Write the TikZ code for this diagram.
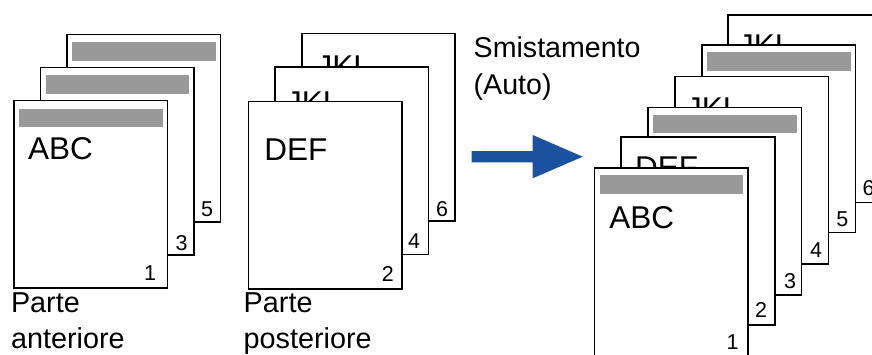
\documentclass[tikz,border=0pt]{standalone}
\usepackage{fontspec}
\setmainfont{Liberation Sans}
\usetikzlibrary{calc}
\definecolor{arrowblue}{RGB}{26,82,160}
\definecolor{bargray}{RGB}{153,153,153}
\begin{document}
\begin{tikzpicture}[x=1pt,y=-1pt,
  sheet/.style={draw=black, line width=1.9pt, fill=white, rectangle,
    minimum width=153.5pt, minimum height=187.5pt, inner sep=0pt, outer sep=0pt, anchor=north west},
  sheetbar/.style={fill=bargray, rectangle, minimum width=143.5pt, minimum height=18.5pt,
    inner sep=0pt, outer sep=0pt, anchor=north west},
  bigtxt/.style={font=\fontsize{31.5}{36}\selectfont, inner sep=0pt, outer sep=0pt, anchor=base west},
  num/.style={font=\fontsize{21.5}{25}\selectfont, inner sep=0pt, outer sep=0pt, anchor=base},
  sidetext/.style={align=left, inner sep=0pt, outer sep=0pt, anchor=north west}]
\useasboundingbox (0,0) rectangle (872,354);
\clip (0,0) rectangle (872,354);

% ---------- left stack (front side) ----------
\node[sheet] (L5) at (67,34.5) {};
\node[sheetbar] (L5bar) at ($(L5.north west)+(5,7.5)$) {};
\node[num] (L5n) at ($(L5.south east)+(-13.5,-5.3)$) {5};
\node[sheet] (L3) at (40.5,67.5) {};
\node[sheetbar] (L3bar) at ($(L3.north west)+(5,7.5)$) {};
\node[num] (L3n) at ($(L3.south east)+(-12.5,-4.5)$) {3};
\node[sheet] (L1) at (14,100.5) {};
\node[sheetbar] (L1bar) at ($(L1.north west)+(5,8)$) {};
\node[bigtxt] (L1t) at ($(L1.north west)+(14,58.5)$) {ABC};
\node[num] (L1n) at ($(L1.south east)+(-17.5,-7.3)$) {1};
\node[sidetext, font=\fontsize{28.8}{36}\selectfont] (front) at (11,292.8) {Parte\\anteriore};

% ---------- middle stack (back side) ----------
\node[sheet] (M6) at (301.7,33.5) {};
\node[bigtxt] (M6t) at ($(M6.north west)+(15,43.5)$) {JKL};
\node[num] (M6n) at ($(M6.south east)+(-13.2,-5)$) {6};
\node[sheet] (M4) at (275,67) {};
\node[bigtxt] (M4t) at ($(M4.north west)+(11,46.5)$) {JKL};
\node[num] (M4n) at ($(M4.south east)+(-14.5,-6.2)$) {4};
\node[sheet] (M2) at (248.5,101.5) {};
\node[bigtxt] (M2t) at ($(M2.north west)+(15.8,58.5)$) {DEF};
\node[num] (M2n) at ($(M2.south east)+(-14.2,-7.3)$) {2};
\node[sidetext, font=\fontsize{28.8}{36}\selectfont] (back) at (243.7,292.8) {Parte\\posteriore};

% ---------- caption and arrow ----------
\node[sidetext, font=\fontsize{28.6}{37.3}\selectfont] (sort) at (473.7,36.7) {Smistamento\\(Auto)};
\fill[arrowblue] (471.7,151) -- (532.7,151) -- (532.7,135) -- (582.7,156.7)
  -- (532.7,178.3) -- (532.7,162.3) -- (471.7,162.3) -- cycle;

% ---------- right stack (sorted) ----------
\node[sheet] (R6) at (728,15) {};
\node[bigtxt] (R6t) at ($(R6.north west)+(10,41)$) {JKL};
\node[num] (R6n) at ($(R6.south east)+(-12.8,-6.8)$) {6};
\node[sheet] (R5) at (702,45) {};
\node[sheetbar] (R5bar) at ($(R5.north west)+(5,7.3)$) {};
\node[num] (R5n) at ($(R5.south east)+(-13.2,-6.5)$) {5};
\node[sheet] (R4) at (675,76.5) {};
\node[bigtxt] (R4t) at ($(R4.north west)+(11,43)$) {JKL};
\node[num] (R4n) at ($(R4.south east)+(-12.5,-6.7)$) {4};
\node[sheet] (R3) at (648,107.5) {};
\node[sheetbar] (R3bar) at ($(R3.north west)+(5,7.3)$) {};
\node[num] (R3n) at ($(R3.south east)+(-11.5,-6.7)$) {3};
\node[sheet] (R2) at (621.2,137.2) {};
\node[bigtxt] (R2t) at ($(R2.north west)+(13.8,40.8)$) {DEF};
\node[num] (R2n) at ($(R2.south east)+(-13.5,-7.4)$) {2};
\node[sheet] (R1) at (594.5,168) {};
\node[sheetbar] (R1bar) at ($(R1.north west)+(5,7.3)$) {};
\node[bigtxt] (R1t) at ($(R1.north west)+(14.8,60.8)$) {ABC};
\node[num] (R1n) at ($(R1.south east)+(-15.5,-6.2)$) {1};
\end{tikzpicture}
\end{document}
